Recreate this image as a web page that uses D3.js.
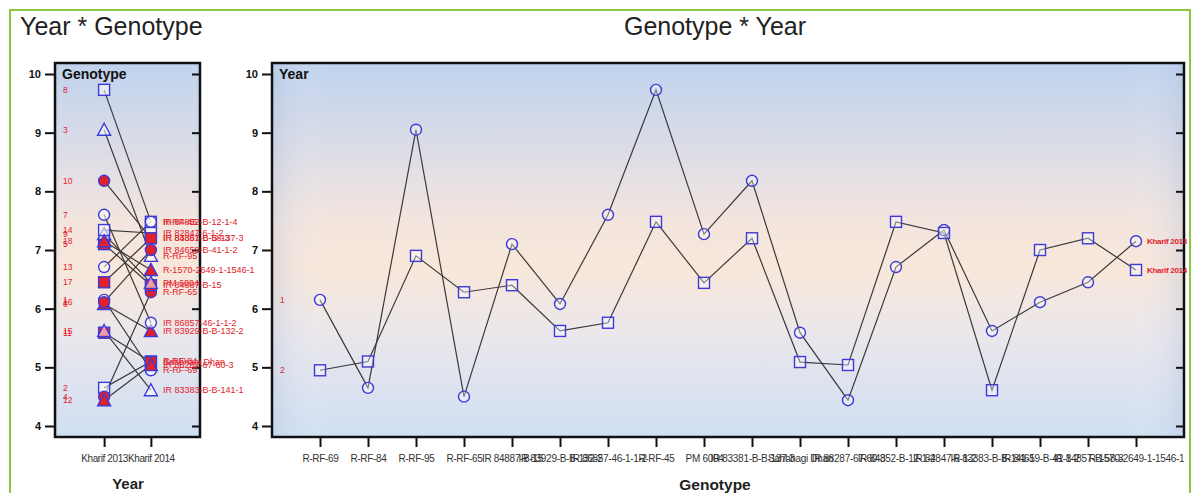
<!DOCTYPE html>
<html><head><meta charset="utf-8">
<script src="https://cdn.jsdelivr.net/npm/d3@7"></script>
<style>body{margin:0;background:#fff;}svg{display:block;font-family:Arial,"Liberation Sans",sans-serif;}</style>
</head><body>
<svg id="c" width="1193" height="493"></svg>
<script>
const genotypes = ["R-RF-69","R-RF-84","R-RF-95","R-RF-65","IR 84887-B-15","IR 83929-B-B-132-2","IR 86857-46-1-1-2","R-RF-45","PM 6004","IR 83381-B-B-137-3","Sahbhagi Dhan","IR 88287-67-60-3","IR 84852-B-12-1-4","IR 82847-6-1-2","IR 83383-B-B-141-1","IR 84659-B-41-1-2","IR 84857-B-58-3","R-1570-2649-1-1546-1"];
const years = ["Kharif 2013","Kharif 2014"];
const kharif2013 = [6.15,4.65,9.05,4.5,7.1,6.08,7.6,9.73,7.27,8.18,5.59,4.44,6.71,7.34,5.62,6.11,6.45,7.15];
const kharif2014 = [4.95,5.1,6.9,6.28,6.4,5.62,5.76,7.48,6.44,7.2,5.09,5.04,7.48,7.29,4.61,7.0,7.2,6.66];
const yTicks = [4,5,6,7,8,9,10];

const svg = d3.select("#c");
const BLUE = "#3b3bd6", RED = "#e3202a", LINE = "#3a3a3a";

const defs = svg.append("defs");
const g = defs.append("linearGradient").attr("id","bg").attr("x1",0).attr("y1",0).attr("x2",0).attr("y2",1);
[[0,"#c0d3ee"],[0.2,"#d8dbe8"],[0.42,"#f3e5de"],[0.55,"#f8e7da"],[0.72,"#ebe7eb"],[1,"#d0dff3"]].forEach(([o,c])=>g.append("stop").attr("offset",o).attr("stop-color",c));
const gh = defs.append("linearGradient").attr("id","vig").attr("x1",0).attr("y1",0).attr("x2",1).attr("y2",0);
[[0,"#9fb4d6",0.25],[0.06,"#ffffff",0],[0.94,"#ffffff",0],[1,"#9fb4d6",0.25]].forEach(([o,c,a])=>gh.append("stop").attr("offset",o).attr("stop-color",c).attr("stop-opacity",a));

svg.append("rect").attr("x",10).attr("y",10).attr("width",1180).attr("height",500).attr("fill","none").attr("stroke","#8dc63f").attr("stroke-width",2);

svg.append("text").attr("x",20).attr("y",35).attr("font-size",25).attr("fill","#222").text("Year * Genotype");
svg.append("text").attr("x",715).attr("y",35).attr("text-anchor","middle").attr("font-size",25).attr("fill","#222").text("Genotype * Year");

const y = d3.scaleLinear().domain([4,10]).range([426,74]);
const pTop = 63, pBottom = 437;

function frame(x0,x1,label){
  svg.append("rect").attr("x",x0).attr("y",pTop).attr("width",x1-x0).attr("height",pBottom-pTop).attr("fill","url(#bg)");
  svg.append("rect").attr("x",x0).attr("y",pTop).attr("width",x1-x0).attr("height",pBottom-pTop).attr("fill","url(#vig)");
  const ax = svg.append("g").attr("transform",`translate(${x0},0)`).call(d3.axisLeft(y).tickValues(yTicks).tickSize(10).tickPadding(4).tickFormat(d3.format("d")));
  ax.select(".domain").remove();
  ax.selectAll("line").attr("stroke","#111").attr("stroke-width",2);
  ax.selectAll("text").attr("font-size",11).attr("font-weight","bold").attr("fill","#111").attr("font-family","Arial, sans-serif");
  const ar = svg.append("g").attr("transform",`translate(${x1},0)`).call(d3.axisLeft(y).tickValues(yTicks).tickSize(8).tickFormat(""));
  ar.select(".domain").remove();
  ar.selectAll("line").attr("stroke","#111").attr("stroke-width",2);
  svg.append("rect").attr("x",x0).attr("y",pTop).attr("width",x1-x0).attr("height",pBottom-pTop).attr("fill","none").attr("stroke","#111").attr("stroke-width",2.5);
  svg.append("text").attr("x",x0+7).attr("y",pTop+16).attr("font-size",14).attr("font-weight","bold").attr("fill","#111").text(label);
}

function marker(sel, idx, cx, cy){
  const i = idx+1;
  const filled = Math.floor((i-1)/3)%2===1;
  const fill = filled ? RED : "#ffffff";
  const fo = filled ? 1 : 0.55;
  const t = i%3;
  if(t===1){
    sel.append("circle").attr("cx",cx).attr("cy",cy).attr("r",5.5).attr("fill",fill).attr("fill-opacity",fo).attr("stroke",BLUE).attr("stroke-width",1.4);
  } else if(t===2){
    sel.append("rect").attr("x",cx-5.5).attr("y",cy-5.5).attr("width",11).attr("height",11).attr("fill",fill).attr("fill-opacity",fo).attr("stroke",BLUE).attr("stroke-width",1.4);
  } else {
    sel.append("path").attr("d",`M${cx},${cy-6.5}L${cx+6.5},${cy+5.5}L${cx-6.5},${cy+5.5}Z`).attr("fill",fill).attr("fill-opacity",fo).attr("stroke",BLUE).attr("stroke-width",1.4);
  }
}

// ---------- Left panel ----------
const L0 = 55, L1 = 200;
frame(L0,L1,"Genotype");
const xl = d3.scalePoint().domain(years).range([L0,L1]).padding(1.05);
const axl = svg.append("g").attr("transform",`translate(0,${pBottom})`).call(d3.axisBottom(xl).tickSize(10).tickPadding(8));
axl.select(".domain").remove();
axl.selectAll("line").attr("stroke","#111").attr("stroke-width",2);
axl.selectAll("text").attr("font-size",10).attr("fill","#333").attr("font-family","Arial, sans-serif").attr("letter-spacing","-0.4");

const lp = svg.append("g");
genotypes.forEach((gn,k)=>{
  lp.append("line").attr("x1",xl(years[0])).attr("y1",y(kharif2013[k])).attr("x2",xl(years[1])).attr("y2",y(kharif2014[k])).attr("stroke",LINE).attr("stroke-width",1.2);
});
genotypes.forEach((gn,k)=>{
  marker(lp,k,xl(years[0]),y(kharif2013[k]));
  marker(lp,k,xl(years[1]),y(kharif2014[k]));
  lp.append("text").attr("x",63).attr("y",y(kharif2013[k])+3).attr("font-size",8.5).attr("fill",RED).text(k+1);
  lp.append("text").attr("x",xl(years[1])+12).attr("y",y(kharif2014[k])+3).attr("font-size",9).attr("fill",RED).text(gn);
});
svg.append("text").attr("x",128).attr("y",489).attr("text-anchor","middle").attr("font-size",15).attr("font-weight","bold").attr("fill","#222").text("Year");

// ---------- Right panel ----------
const R0 = 272, R1 = 1184;
frame(R0,R1,"Year");
const xr = d3.scalePoint().domain(genotypes).range([R0,R1]).padding(1);
const axr = svg.append("g").attr("transform",`translate(0,${pBottom})`).call(d3.axisBottom(xr).tickSize(10).tickPadding(8));
axr.select(".domain").remove();
axr.selectAll("line").attr("stroke","#111").attr("stroke-width",2);
axr.selectAll("text").attr("font-size",10).attr("fill","#333").attr("font-family","Arial, sans-serif").attr("letter-spacing","-0.3");

const rp = svg.append("g");
const series = [{name:"Kharif 2013",vals:kharif2013,shape:"circle"},{name:"Kharif 2014",vals:kharif2014,shape:"square"}];
const lineGen = d3.line().x((d,i)=>xr(genotypes[i])).y(d=>y(d));
series.forEach(s=>{
  rp.append("path").attr("d",lineGen(s.vals)).attr("fill","none").attr("stroke",LINE).attr("stroke-width",1.2);
});
series.forEach((s,si)=>{
  s.vals.forEach((v,i)=>{
    const cx = xr(genotypes[i]), cy = y(v);
    if(s.shape==="circle") rp.append("circle").attr("cx",cx).attr("cy",cy).attr("r",5.5).attr("fill","#fff").attr("fill-opacity",0.35).attr("stroke",BLUE).attr("stroke-width",1.4);
    else rp.append("rect").attr("x",cx-5.5).attr("y",cy-5.5).attr("width",11).attr("height",11).attr("fill","#fff").attr("fill-opacity",0.35).attr("stroke",BLUE).attr("stroke-width",1.4);
  });
  rp.append("text").attr("x",280).attr("y",y(s.vals[0])+3).attr("font-size",8.5).attr("fill",RED).text(si+1);
  const last = s.vals[s.vals.length-1];
  rp.append("text").attr("x",xr(genotypes[genotypes.length-1])+11).attr("y",y(last)+3).attr("font-size",8).attr("font-weight","bold").attr("fill",RED).attr("letter-spacing","-0.3").text(s.name);
});
svg.append("text").attr("x",715).attr("y",490).attr("text-anchor","middle").attr("font-size",15.5).attr("font-weight","bold").attr("fill","#222").text("Genotype");
</script>
</body></html>
